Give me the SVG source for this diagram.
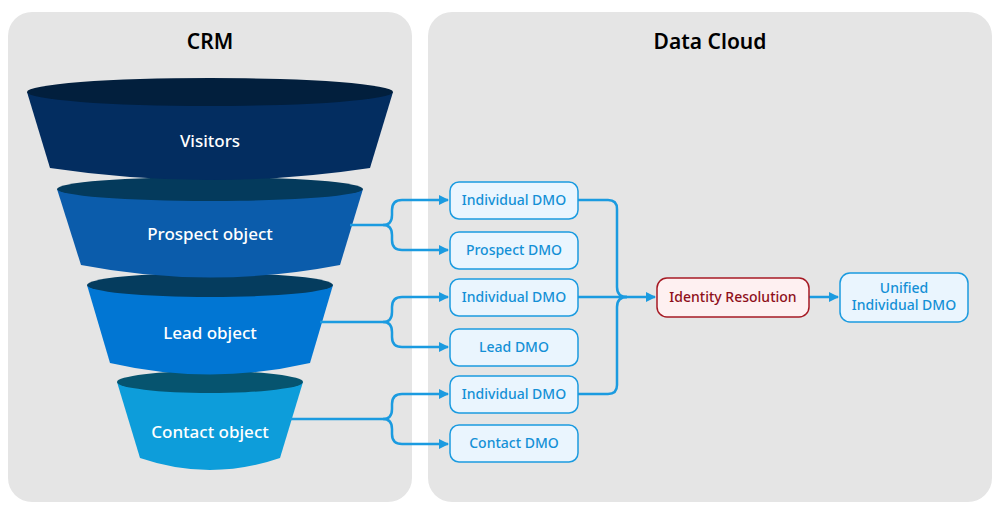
<svg xmlns="http://www.w3.org/2000/svg" width="1000" height="515" viewBox="0 0 1000 515">
<defs>
<style>
.panel{fill:#e5e5e5}
.title{font-family:"Noto Sans",sans-serif;font-size:21px;font-weight:600;fill:#000;text-anchor:middle}
.fl{font-family:"Noto Sans",sans-serif;font-size:17px;font-weight:500;fill:#fff;text-anchor:middle}
.box{fill:#eaf5fe;stroke:#1b9be0;stroke-width:1.5}
.bt{font-family:"Noto Sans",sans-serif;font-size:14px;font-weight:500;fill:#1490d6;text-anchor:middle}
.ir{fill:#fef0f1;stroke:#a61a24;stroke-width:1.5}
.irt{font-family:"Noto Sans",sans-serif;font-size:14px;font-weight:500;fill:#8e0f1a;text-anchor:middle}
.c{fill:none;stroke:#1b9be0;stroke-width:2.5;stroke-linejoin:round}
</style>
<marker id="a" viewBox="0 0 10 10" refX="9" refY="5" markerWidth="4" markerHeight="4" orient="auto"><path d="M0,0L10,5L0,10z" fill="#1b9be0"/></marker>
</defs>
<rect class="panel" x="8" y="12" width="404" height="490" rx="24"/>
<rect class="panel" x="428" y="12" width="564" height="490" rx="24"/>
<text class="title" x="210" y="49">CRM</text>
<text class="title" x="710" y="49">Data Cloud</text>

<g id="contact"><path d="M117,382 L140,458 Q210,482 280,458 L303,382 Z" fill="#0d9dda"/><ellipse cx="210" cy="382" rx="93" ry="11" fill="#06546f"/><text class="fl" x="210" y="438">Contact object</text></g>
<g id="lead"><path d="M87,285 L110,363 Q210,386 310,363 L333,285 Z" fill="#0176d3"/><ellipse cx="210" cy="285" rx="123" ry="12" fill="#053c5e"/><text class="fl" x="210" y="339">Lead object</text></g>
<g id="prospect"><path d="M57,189 L81,265 Q210,290 340,265 L363,189 Z" fill="#0b5cab"/><ellipse cx="210" cy="189" rx="153" ry="12" fill="#043a5c"/><text class="fl" x="210" y="240">Prospect object</text></g>
<g id="visitors"><path d="M27,92 L50,168 Q210,192 370,168 L393,92 Z" fill="#032d60"/><ellipse cx="210" cy="92" rx="183" ry="14" fill="#021f3d"/><text class="fl" x="210" y="147">Visitors</text></g>

<g id="connectors">
<path class="c" d="M350,225 H383 Q392,225 392,215 V210 Q392,200 402,200 H448" marker-end="url(#a)"/>
<path class="c" d="M383,225 Q392,225 392,235 V240 Q392,250 402,250 H448" marker-end="url(#a)"/>
<path class="c" d="M320,322 H383 Q392,322 392,312 V307 Q392,297 402,297 H448" marker-end="url(#a)"/>
<path class="c" d="M383,322 Q392,322 392,332 V337 Q392,347 402,347 H448" marker-end="url(#a)"/>
<path class="c" d="M290,419 H383 Q392,419 392,409 V404 Q392,394 402,394 H448" marker-end="url(#a)"/>
<path class="c" d="M383,419 Q392,419 392,429 V434 Q392,444 402,444 H448" marker-end="url(#a)"/>
<path class="c" d="M578,200 H608 Q617,200 617,209 V287 Q617,297 627,297"/>
<path class="c" d="M578,394 H608 Q617,394 617,385 V307 Q617,297 627,297"/>
<path class="c" d="M578,297 H655" marker-end="url(#a)"/>
<path class="c" d="M809,297 H838" marker-end="url(#a)"/>
</g>

<g id="ind1"><rect class="box" x="450" y="182" width="128" height="37" rx="9"/><text class="bt" x="514" y="205">Individual DMO</text></g>
<g id="pdmo"><rect class="box" x="450" y="232" width="128" height="37" rx="9"/><text class="bt" x="514" y="255">Prospect DMO</text></g>
<g id="ind2"><rect class="box" x="450" y="279" width="128" height="37" rx="9"/><text class="bt" x="514" y="302">Individual DMO</text></g>
<g id="ldmo"><rect class="box" x="450" y="329" width="128" height="37" rx="9"/><text class="bt" x="514" y="352">Lead DMO</text></g>
<g id="ind3"><rect class="box" x="450" y="376" width="128" height="37" rx="9"/><text class="bt" x="514" y="399">Individual DMO</text></g>
<g id="cdmo"><rect class="box" x="450" y="425" width="128" height="37" rx="9"/><text class="bt" x="514" y="448">Contact DMO</text></g>
<g id="ir"><rect class="ir" x="657" y="278" width="152" height="39" rx="10"/><text class="irt" x="733" y="302">Identity Resolution</text></g>
<g id="unified"><rect class="box" x="840" y="273" width="128" height="49" rx="10"/><text class="bt" x="904" y="293">Unified</text><text class="bt" x="904" y="310">Individual DMO</text></g>
</svg>
